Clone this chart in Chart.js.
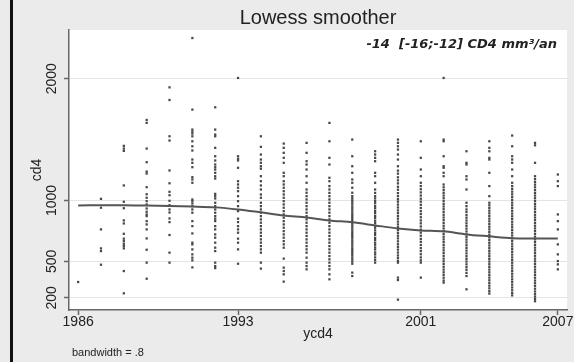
<!DOCTYPE html>
<html>
<head>
<meta charset="utf-8">
<script src="https://cdn.jsdelivr.net/npm/chart.js@4/dist/chart.umd.min.js"></script>
<style>
  html, body { margin: 0; padding: 0; background: #ebebeb; }
  canvas { display: block; }
</style>
</head>
<body>
<canvas id="graph" width="574" height="362"></canvas>
<script>
// cd4 values per year
const y1986 = [330];
const y1987 = [1013, 940, 762, 606, 584, 472];
const y1988 = [1448, 1426, 1407, 1123, 989, 936, 836, 811, 726, 686, 666, 644, 625, 606, 420, 237];
const y1989 = [1661, 1637, 1426, 1314, 1237, 1221, 1109, 1051, 1022, 994, 967, 934, 907, 885, 871, 830, 803, 762, 688, 595, 489, 357];
const y1990 = [1929, 1825, 1527, 1492, 1246, 1141, 1071, 1043, 997, 961, 926, 901, 852, 822, 716, 571, 489];
const y1991 = [2334, 1746, 1582, 1565, 1549, 1527, 1486, 1445, 1410, 1336, 1309, 1273, 1191, 1172, 1145, 1008, 994, 975, 953, 926, 899, 830, 789, 729, 653, 639, 598, 557, 530, 508, 450];
const y1992 = [1765, 1582, 1541, 1527, 1432, 1363, 1328, 1295, 1273, 1254, 1227, 1199, 1180, 1054, 1035, 1016, 981, 953, 926, 899, 871, 850, 830, 789, 762, 721, 694, 653, 612, 584, 489, 461, 444];
const y1993 = [2006, 1363, 1342, 1328, 1268, 1158, 1131, 1104, 1076, 1035, 994, 953, 912, 850, 822, 789, 762, 735, 686, 653, 598, 480];
const y1994 = [1527, 1440, 1377, 1336, 1309, 1281, 1260, 1199, 1158, 1123, 1090, 1049, 1022, 981, 953, 926, 899, 871, 844, 817, 789, 762, 735, 708, 680, 653, 625, 598, 571, 489, 440];
const y1995 = [1467, 1432, 1391, 1350, 1309, 1227, 1199, 1158, 1131, 1104, 1076, 1049, 1022, 994, 967, 940, 912, 885, 858, 830, 803, 776, 748, 721, 694, 666, 639, 612, 522, 448, 420, 393, 333];
const y1996 = [1473, 1391, 1322, 1295, 1254, 1199, 1145, 1090, 1063, 1035, 1008, 981, 953, 926, 899, 871, 844, 817, 789, 762, 735, 708, 680, 653, 625, 598, 571, 530, 489, 461, 434];
const y1997 = [1637, 1486, 1350, 1295, 1186, 1158, 1118, 1090, 1062, 1035, 1008, 981, 953, 926, 899, 871, 844, 817, 789, 762, 735, 708, 680, 653, 625, 598, 571, 543, 516, 489, 461, 434, 393, 352];
const y1998 = [1500, 1363, 1281, 1227, 1172, 1145, 1104, 1063, 1035, 1018, 1001, 985, 968, 950, 934, 917, 899, 882, 865, 848, 830, 812, 795, 778, 760, 742, 725, 708, 690, 672, 655, 638, 620, 602, 585, 568, 550, 532, 515, 498, 480, 407, 379];
const y1999 = [1404, 1377, 1350, 1322, 1227, 1199, 1145, 1090, 1062, 1035, 1016, 994, 977, 953, 936, 914, 896, 873, 857, 834, 816, 793, 776, 754, 733, 716, 692, 675, 653, 636, 614, 597, 573, 556, 532, 510, 489];
const y2000 = [1500, 1473, 1445, 1418, 1377, 1336, 1281, 1245, 1220, 1190, 1165, 1140, 1112, 1088, 1060, 1035, 1010, 990, 966, 942, 918, 896, 872, 850, 826, 803, 780, 756, 733, 710, 688, 664, 640, 618, 596, 572, 548, 526, 503, 489, 366, 346, 185];
const y2001 = [1486, 1350, 1254, 1199, 1145, 1118, 1092, 1066, 1040, 1014, 990, 964, 938, 912, 888, 862, 836, 812, 786, 760, 736, 710, 684, 660, 634, 608, 584, 558, 532, 508, 489, 366];
const y2002 = [2006, 1500, 1486, 1363, 1281, 1268, 1227, 1199, 1131, 1108, 1085, 1062, 1040, 1018, 995, 972, 950, 928, 905, 882, 860, 838, 815, 792, 770, 748, 725, 702, 680, 658, 635, 612, 590, 568, 545, 522, 500, 478, 455, 432, 410, 388, 365, 342, 325];
const y2003 = [1404, 1309, 1295, 1199, 1172, 1090, 981, 953, 926, 905, 880, 858, 835, 812, 790, 768, 745, 722, 700, 678, 655, 632, 610, 588, 565, 542, 520, 498, 475, 452, 430, 405, 379, 270];
const y2004 = [1486, 1432, 1404, 1350, 1336, 1227, 1118, 1035, 981, 960, 938, 916, 894, 872, 850, 828, 806, 784, 762, 740, 718, 696, 674, 652, 630, 608, 586, 564, 542, 520, 498, 476, 454, 432, 410, 388, 366, 344, 322, 300, 278, 255, 235];
const y2005 = [1533, 1445, 1363, 1336, 1309, 1254, 1199, 1145, 1118, 1095, 1072, 1050, 1028, 1005, 982, 960, 938, 915, 892, 870, 848, 825, 802, 780, 758, 735, 712, 690, 668, 645, 622, 600, 578, 555, 532, 510, 488, 465, 442, 420, 398, 375, 352, 330, 308, 285, 262, 240, 220];
const y2006 = [1473, 1453, 1309, 1199, 1175, 1152, 1130, 1108, 1085, 1062, 1040, 1018, 995, 972, 950, 928, 905, 882, 860, 838, 815, 792, 770, 748, 725, 702, 680, 658, 635, 612, 590, 568, 545, 522, 500, 478, 455, 432, 410, 388, 365, 342, 320, 298, 275, 252, 230, 210, 190, 172];
const y2007 = [1213, 1158, 1118, 885, 830, 762, 639, 557, 502, 475, 434];

const years = [1986, 1987, 1988, 1989, 1990, 1991, 1992, 1993, 1994, 1995, 1996,
               1997, 1998, 1999, 2000, 2001, 2002, 2003, 2004, 2005, 2006, 2007];
const cd4Columns = [y1986, y1987, y1988, y1989, y1990, y1991, y1992, y1993, y1994, y1995, y1996,
                    y1997, y1998, y1999, y2000, y2001, y2002, y2003, y2004, y2005, y2006, y2007];

// lowess fit, one value per year
const lowessValues = [959, 960, 960, 958, 955, 950, 943, 926, 902, 877, 860,
                      836, 820, 795, 770, 754, 746, 721, 705, 690, 688, 688];

const xTickValues = [1986, 1993, 2001, 2007];
const yTickValues = [200, 500, 1000, 2000];

const scatterData = [];
years.forEach((yr, i) => {
    cd4Columns[i].forEach(v => scatterData.push({ x: yr, y: v }));
});
const lowessData = years.map((yr, i) => ({ x: yr, y: lowessValues[i] }));

const fontFamily = "'Liberation Sans', Arial, sans-serif";

// background, white plot region and the black frame edge
const backgroundPlugin = {
    id: "background",
    beforeDraw(chart) {
        const ctx = chart.ctx;
        const area = chart.chartArea;
        ctx.save();
        ctx.fillStyle = "#ebebeb";
        ctx.fillRect(0, 0, chart.width, chart.height);
        ctx.fillStyle = "#ffffff";
        ctx.fillRect(area.left, area.top, area.right - area.left, area.bottom - area.top);
        ctx.fillStyle = "#111111";
        ctx.fillRect(10, 0, 3, chart.height);
        ctx.restore();
    }
};

// all the text: titles, rotated y labels, x labels
const textPlugin = {
    id: "texts",
    afterDraw(chart) {
        const ctx = chart.ctx;
        const xs = chart.scales.x;
        const ys = chart.scales.y;
        const area = chart.chartArea;
        ctx.save();
        ctx.fillStyle = "#222222";
        ctx.textAlign = "center";
        ctx.textBaseline = "middle";

        ctx.font = "20px " + fontFamily;
        ctx.fillText("Lowess smoother", 318, 18);

        ctx.font = "14px " + fontFamily;
        xTickValues.forEach(v => {
            ctx.fillText(String(v), xs.getPixelForValue(v), 322);
        });
        ctx.fillText("ycd4", (area.left + area.right) / 2, 334);

        yTickValues.forEach(v => {
            ctx.save();
            ctx.translate(52, ys.getPixelForValue(v));
            ctx.rotate(-Math.PI / 2);
            ctx.fillText(String(v), 0, 0);
            ctx.restore();
        });
        ctx.save();
        ctx.translate(37, (area.top + area.bottom) / 2);
        ctx.rotate(-Math.PI / 2);
        ctx.fillText("cd4", 0, 0);
        ctx.restore();

        ctx.textAlign = "left";
        ctx.font = "11px " + fontFamily;
        ctx.fillText("bandwidth = .8", 72, 353);

        ctx.textAlign = "right";
        ctx.font = "italic bold 13px 'DejaVu Sans', Verdana, sans-serif";
        ctx.fillText("-14  [-16;-12] CD4 mm\u00b3/an", 557, 45);
        ctx.restore();
    }
};

new Chart(document.getElementById("graph").getContext("2d"), {
    type: "scatter",
    data: {
        datasets: [
            {
                label: "cd4",
                data: scatterData,
                pointStyle: "rect",
                pointRadius: 1.6,
                backgroundColor: "#484848",
                borderWidth: 0,
                order: 2
            },
            {
                label: "lowess",
                type: "line",
                data: lowessData,
                showLine: true,
                pointRadius: 0,
                borderColor: "#555555",
                borderWidth: 2,
                tension: 0.3,
                fill: false,
                order: 1
            }
        ]
    },
    options: {
        responsive: false,
        animation: false,
        devicePixelRatio: 1,
        layout: { padding: { left: 0, top: 30, right: 7, bottom: 0 } },
        plugins: {
            legend: { display: false },
            tooltip: { enabled: false }
        },
        scales: {
            x: {
                type: "linear",
                min: 1985.6,
                max: 2007.4,
                afterBuildTicks: scale => { scale.ticks = xTickValues.map(v => ({ value: v })); },
                afterFit: scale => { scale.height = 52; },
                ticks: { display: false },
                grid: { drawOnChartArea: false, tickColor: "#666666", tickLength: 5, tickWidth: 1.5 },
                border: { color: "#666666", width: 1.5 }
            },
            y: {
                type: "linear",
                min: 100,
                max: 2400,
                afterBuildTicks: scale => { scale.ticks = yTickValues.map(v => ({ value: v })); },
                afterFit: scale => { scale.width = 69; },
                ticks: { display: false },
                grid: { color: "#e4e4e4", lineWidth: 1, tickColor: "#666666", tickLength: 5, tickWidth: 1.5 },
                border: { color: "#666666", width: 1.5 }
            }
        }
    },
    plugins: [backgroundPlugin, textPlugin]
});
</script>
</body>
</html>
